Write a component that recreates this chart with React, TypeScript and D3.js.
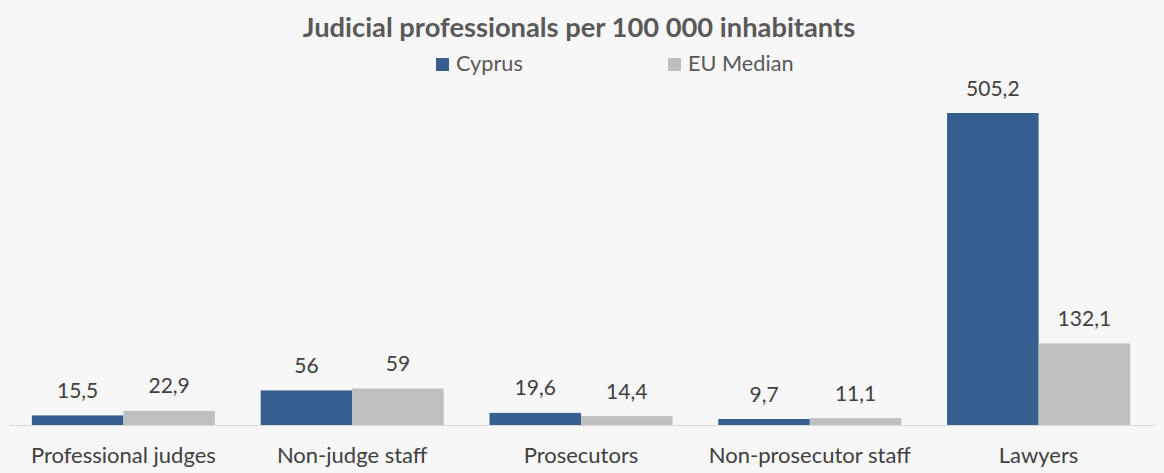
import * as d3 from 'd3'

const categories = ['Professional judges', 'Non-judge staff', 'Prosecutors', 'Non-prosecutor staff', 'Lawyers']
const seriesNames = ['Cyprus', 'EU Median']
const cyprus = [15.5, 56, 19.6, 9.7, 505.2]
const euMedian = [22.9, 59, 14.4, 11.1, 132.1]
const colors = ['#365e8e', '#bfbfbf']

const width = 1164
const height = 473
const font = 'Lato, Calibri, "Open Sans", sans-serif'

const fmt = (v: number) => String(v).replace('.', ',')

export default function App() {
  const series = [cyprus, euMedian]
  const x = d3.scaleBand<string>().domain(categories).range([9, 1153]).paddingInner(0.2).paddingOuter(0.1)
  const xs = d3.scaleBand<number>().domain([0, 1]).range([0, x.bandwidth()])
  const y = d3.scaleLinear().domain([0, 505.2]).range([425, 113])

  return (
    <svg width={width} height={height} style={{ position: 'absolute', left: 0, top: 0, background: '#f7f7f7' }}>
      <rect width={width} height={height} fill="#f7f7f7" />
      <text x={579} y={37} textAnchor="middle" fontFamily={font} fontWeight="bold" fontSize={27.3} fill="#595959">
        Judicial professionals per 100 000 inhabitants
      </text>
      {seriesNames.map((name, i) => (
        <g key={name} transform={`translate(${i === 0 ? 436 : 668},58)`}>
          <rect width={13} height={13} fill={colors[i]} />
          <text x={20} y={13} fontFamily={font} fontSize={21.7} fill="#595959">{name}</text>
        </g>
      ))}
      {categories.map((c, ci) => (
        <g key={c} transform={`translate(${x(c)},0)`}>
          {series.map((s, si) => (
            <g key={si}>
              <rect x={xs(si)} y={y(s[ci])} width={xs.bandwidth()} height={y(0) - y(s[ci])} fill={colors[si]} />
              <text x={(xs(si) ?? 0) + xs.bandwidth() / 2} y={y(s[ci]) - 17.5} textAnchor="middle" fontFamily={font} fontSize={21} fill="#404040">
                {fmt(s[ci])}
              </text>
            </g>
          ))}
          <text x={x.bandwidth() / 2} y={463} textAnchor="middle" fontFamily={font} fontSize={22} fill="#404040">{c}</text>
        </g>
      ))}
      <line x1={9} x2={1155} y1={y(0) + 0.5} y2={y(0) + 0.5} stroke="#d9d9d9" strokeWidth={1} />
    </svg>
  )
}
